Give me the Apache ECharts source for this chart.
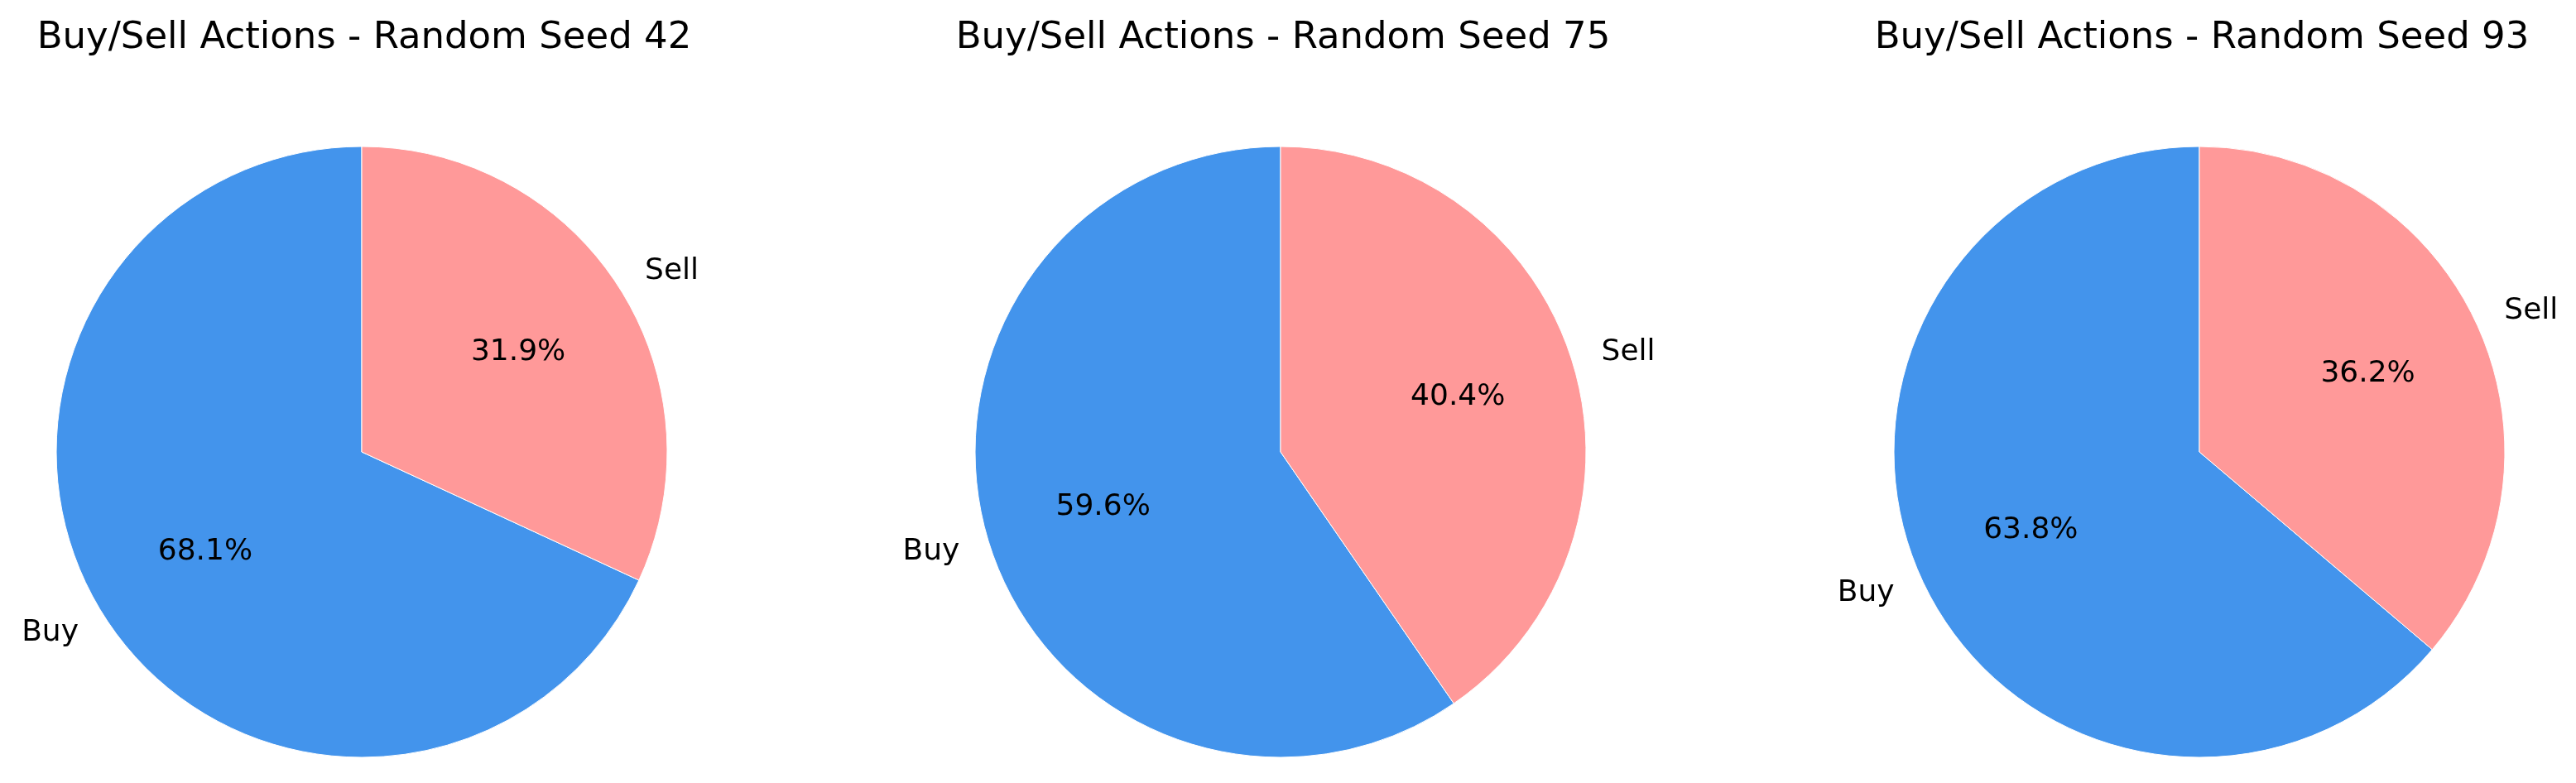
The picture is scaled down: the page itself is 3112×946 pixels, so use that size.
<!DOCTYPE html>
<html>
<head>
<meta charset="utf-8">
<title>Buy/Sell Actions</title>
<script src="https://cdn.jsdelivr.net/npm/echarts@6/dist/echarts.min.js"></script>
<style>
  html, body { margin: 0; padding: 0; background: #fff; }
  #main { width: 3112px; height: 946px; }
</style>
</head>
<body>
<div id="main"></div>
<script>
// data
var seeds = [42, 75, 93];
var labels = ['Buy', 'Sell'];
var buyPct = [68.1, 59.6, 63.8];
var sellPct = [31.9, 40.4, 36.2];
var colors = ['#4394EC', '#FF9999'];

// layout
var centersX = [437, 1547, 2657];
var centerY = 546;
var R = 369;
var font = 'DejaVu Sans';

var chart = echarts.init(document.getElementById('main'));

var titles = [], series = [];
for (var i = 0; i < seeds.length; i++) {
    var vals = [buyPct[i], sellPct[i]];
    var data = labels.map(function (n, k) {
        return {name: n, value: vals[k], itemStyle: {color: colors[k]}};
    });

    titles.push({
        text: 'Buy/Sell Actions - Random Seed ' + seeds[i],
        left: centersX[i] - 2,
        top: 19,
        textAlign: 'center',
        textStyle: {fontFamily: font, fontSize: 45, fontWeight: 'normal', color: '#000'}
    });

    // slices, names outside at 1.1R
    series.push({
        type: 'pie',
        center: [centersX[i], centerY],
        radius: [0, R],
        startAngle: 90,
        clockwise: false,
        avoidLabelOverlap: false,
        silent: true,
        itemStyle: {borderColor: '#fff', borderWidth: 1},
        label: {
            show: true,
            position: 'outside',
            formatter: '{b}',
            fontFamily: font,
            fontSize: 36,
            color: '#000',
            distanceToLabelLine: 0
        },
        labelLine: {show: false, length: R * 0.1, length2: 0},
        emphasis: {disabled: true},
        data: data
    });

    // percentages at 0.6R
    series.push({
        type: 'pie',
        center: [centersX[i], centerY],
        radius: [0, R * 1.2],
        startAngle: 90,
        clockwise: false,
        avoidLabelOverlap: false,
        silent: true,
        percentPrecision: 1,
        itemStyle: {color: 'rgba(0,0,0,0)'},
        label: {
            show: true,
            position: 'inside',
            formatter: '{d}%',
            fontFamily: font,
            fontSize: 36,
            color: '#000'
        },
        labelLine: {show: false},
        emphasis: {disabled: true},
        data: labels.map(function (n, k) { return {name: n, value: vals[k]}; })
    });
}

var option = {
    backgroundColor: '#fff',
    animation: false,
    title: titles,
    series: series
};

chart.setOption(option);
</script>
</body>
</html>
